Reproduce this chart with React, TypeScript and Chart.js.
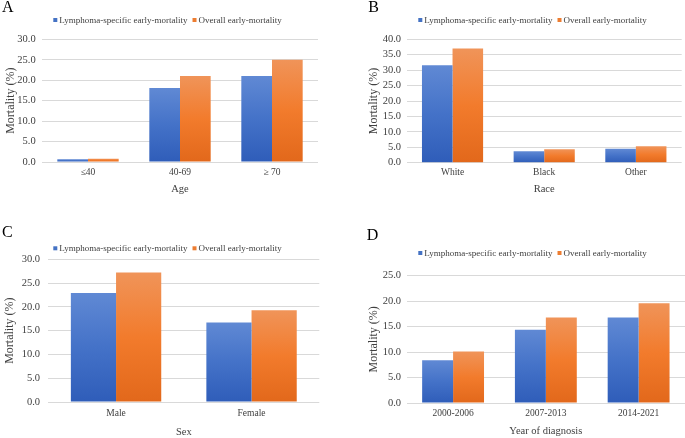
import { useEffect, useRef } from "react";
import { Chart, registerables } from "chart.js";

Chart.register(...registerables);

// Series and category data
const seriesNames = ["Lymphoma-specific early-mortality", "Overall early-mortality"];

const ageCategories = ["≤40", "40-69", "≥ 70"];
const ageSpecific = [0.7, 18.1, 21.0];
const ageOverall = [0.8, 21.0, 25.0];

const raceCategories = ["White", "Black", "Other"];
const raceSpecific = [31.6, 3.7, 4.5];
const raceOverall = [37.0, 4.4, 5.3];

const sexCategories = ["Male", "Female"];
const sexSpecific = [22.9, 16.7];
const sexOverall = [27.2, 19.3];

const yearCategories = ["2000-2006", "2007-2013", "2014-2021"];
const yearSpecific = [8.4, 14.4, 16.8];
const yearOverall = [10.1, 16.8, 19.6];

const yAxisMax = { age: 30, race: 40, sex: 30, year: 25 };
const yAxisStep = 5;
const yAxisTitle = "Mortality (%)";

const FONT = "'Liberation Serif', 'Times New Roman', serif";
const TEXT = "#404040";
const GRID = "#D9D9D9";
const BLUE_KEY = "#4472C4";
const ORANGE_KEY = "#ED7D31";
const BLUE_STOPS = ["#6089D4", "#4472C8", "#2F5DB9"];
const ORANGE_STOPS = ["#F09459", "#F27B2C", "#E2681B"];

type PanelSpec = {
  letter: string;
  labels: string[];
  specific: number[];
  overall: number[];
  yMax: number;
  xTitle: string;
  box: { left: number; top: number; width: number; height: number };
  padTop: number;
  padRight: number;
  yWidth: number;
  yTickPad: number;
  yTitlePad: number;
  xHeight: number;
  xTickPad: number;
  xTitlePad: number;
  letterX: number;
  letterY: number;
  legendX: number;
  legendY: number;
};

const panels: PanelSpec[] = [
  {
    letter: "A", labels: ageCategories, specific: ageSpecific, overall: ageOverall,
    yMax: yAxisMax.age, xTitle: "Age",
    box: { left: 0, top: 0, width: 342, height: 219 },
    padTop: 39.3, padRight: 24, yWidth: 42, yTickPad: 6.3, yTitlePad: 5,
    xHeight: 57, xTickPad: 4.6, xTitlePad: 24.7,
    letterX: 2, letterY: 8, legendX: 53.3, legendY: 20,
  },
  {
    letter: "B", labels: raceCategories, specific: raceSpecific, overall: raceOverall,
    yMax: yAxisMax.race, xTitle: "Race",
    box: { left: 342, top: 0, width: 343, height: 219 },
    padTop: 39.3, padRight: 3.3, yWidth: 64.7, yTickPad: 5.7, yTitlePad: 26,
    xHeight: 56.3, xTickPad: 3.8, xTitlePad: 24.7,
    letterX: 26.3, letterY: 8, legendX: 76.3, legendY: 20,
  },
  {
    letter: "C", labels: sexCategories, specific: sexSpecific, overall: sexOverall,
    yMax: yAxisMax.sex, xTitle: "Sex",
    box: { left: 0, top: 219, width: 342, height: 219 },
    padTop: 40.3, padRight: 22.7, yWidth: 48.3, yTickPad: 8.3, yTitlePad: 3.5,
    xHeight: 36, xTickPad: 5.6, xTitlePad: 0.4,
    letterX: 2, letterY: 13.5, legendX: 53.3, legendY: 29.3,
  },
  {
    letter: "D", labels: yearCategories, specific: yearSpecific, overall: yearOverall,
    yMax: yAxisMax.year, xTitle: "Year of diagnosis",
    box: { left: 342, top: 219, width: 343, height: 219 },
    padTop: 56.7, padRight: 0, yWidth: 64.7, yTickPad: 5.7, yTitlePad: 26,
    xHeight: 35, xTickPad: 4.6, xTitlePad: 2,
    letterX: 24.7, letterY: 16.8, legendX: 76.3, legendY: 34,
  },
];

// Vertical gradient spanning each bar from its top down to the zero line
const barGradient = (stops: string[]) => (ctx: any) => {
  const chart = ctx.chart;
  const yScale = chart.scales?.y;
  if (!chart.chartArea || !yScale || ctx.type !== "data") return stops[1];
  const top = yScale.getPixelForValue(ctx.parsed.y);
  const base = yScale.getPixelForValue(0);
  if (!(base - top > 0.5)) return stops[1];
  const g = chart.ctx.createLinearGradient(0, top, 0, base);
  g.addColorStop(0, stops[0]);
  g.addColorStop(0.5, stops[1]);
  g.addColorStop(1, stops[2]);
  return g;
};

// Panel letter and a compact legend row drawn above the plot
const panelDecor = {
  id: "panelDecor",
  afterDraw(chart: any, _args: any, opts: any) {
    const ctx = chart.ctx;
    ctx.save();
    ctx.fillStyle = "#000000";
    ctx.font = `16px ${FONT}`;
    ctx.textBaseline = "middle";
    ctx.textAlign = "left";
    ctx.fillText(opts.letter, opts.letterX, opts.letterY);

    ctx.font = `9px ${FONT}`;
    let x = opts.legendX;
    const keys = [BLUE_KEY, ORANGE_KEY];
    chart.data.datasets.forEach((ds: any, i: number) => {
      ctx.fillStyle = keys[i];
      ctx.fillRect(x, opts.legendY - 2, 4, 4);
      x += 6;
      ctx.fillStyle = TEXT;
      ctx.fillText(ds.label, x, opts.legendY + 0.5);
      x += ctx.measureText(ds.label).width + 5;
    });
    ctx.restore();
  },
};

function Panel({ spec }: { spec: PanelSpec }) {
  const ref = useRef<HTMLCanvasElement | null>(null);

  useEffect(() => {
    if (!ref.current) return;
    const chart = new Chart(ref.current, {
      type: "bar",
      data: {
        labels: spec.labels,
        datasets: [
          {
            label: seriesNames[0],
            data: spec.specific,
            backgroundColor: barGradient(BLUE_STOPS),
            borderWidth: 0,
            categoryPercentage: 0.667,
            barPercentage: 1,
          },
          {
            label: seriesNames[1],
            data: spec.overall,
            backgroundColor: barGradient(ORANGE_STOPS),
            borderWidth: 0,
            categoryPercentage: 0.667,
            barPercentage: 1,
          },
        ],
      },
      options: {
        responsive: false,
        maintainAspectRatio: false,
        animation: false,
        layout: {
          padding: { top: spec.padTop, right: spec.padRight, left: 0, bottom: 0 },
        },
        plugins: {
          legend: { display: false },
          title: { display: false },
          tooltip: { enabled: false },
          panelDecor: spec,
        } as any,
        scales: {
          x: {
            grid: { display: false, drawTicks: false },
            border: { display: false },
            ticks: {
              color: TEXT,
              font: { family: FONT, size: 9.5 },
              padding: spec.xTickPad,
              maxRotation: 0,
              autoSkip: false,
            },
            title: {
              display: true,
              text: spec.xTitle,
              color: TEXT,
              font: { family: FONT, size: 10.5, lineHeight: 1 },
              padding: { top: 0, bottom: spec.xTitlePad },
            },
            afterFit: (s: any) => {
              s.height = spec.xHeight;
            },
          },
          y: {
            min: 0,
            max: spec.yMax,
            grid: { color: GRID, lineWidth: 1, drawTicks: false },
            border: { display: false },
            ticks: {
              stepSize: yAxisStep,
              autoSkip: false,
              color: TEXT,
              font: { family: FONT, size: 10.5 },
              padding: spec.yTickPad,
              callback: (v: any) => Number(v).toFixed(1),
            },
            title: {
              display: true,
              text: yAxisTitle,
              color: TEXT,
              font: { family: FONT, size: 12, lineHeight: 1 },
              padding: { top: spec.yTitlePad, bottom: 0 },
            },
            afterFit: (s: any) => {
              s.width = spec.yWidth;
            },
          },
        },
      },
      plugins: [panelDecor],
    });
    return () => chart.destroy();
  }, [spec]);

  return (
    <canvas
      ref={ref}
      width={spec.box.width}
      height={spec.box.height}
      style={{
        position: "absolute",
        left: spec.box.left,
        top: spec.box.top,
        width: spec.box.width,
        height: spec.box.height,
      }}
    />
  );
}

export default function App() {
  return (
    <div
      style={{
        position: "absolute",
        left: 0,
        top: 0,
        width: 685,
        height: 438,
        background: "#ffffff",
        overflow: "hidden",
      }}
    >
      {panels.map((p) => (
        <Panel key={p.letter} spec={p} />
      ))}
    </div>
  );
}
